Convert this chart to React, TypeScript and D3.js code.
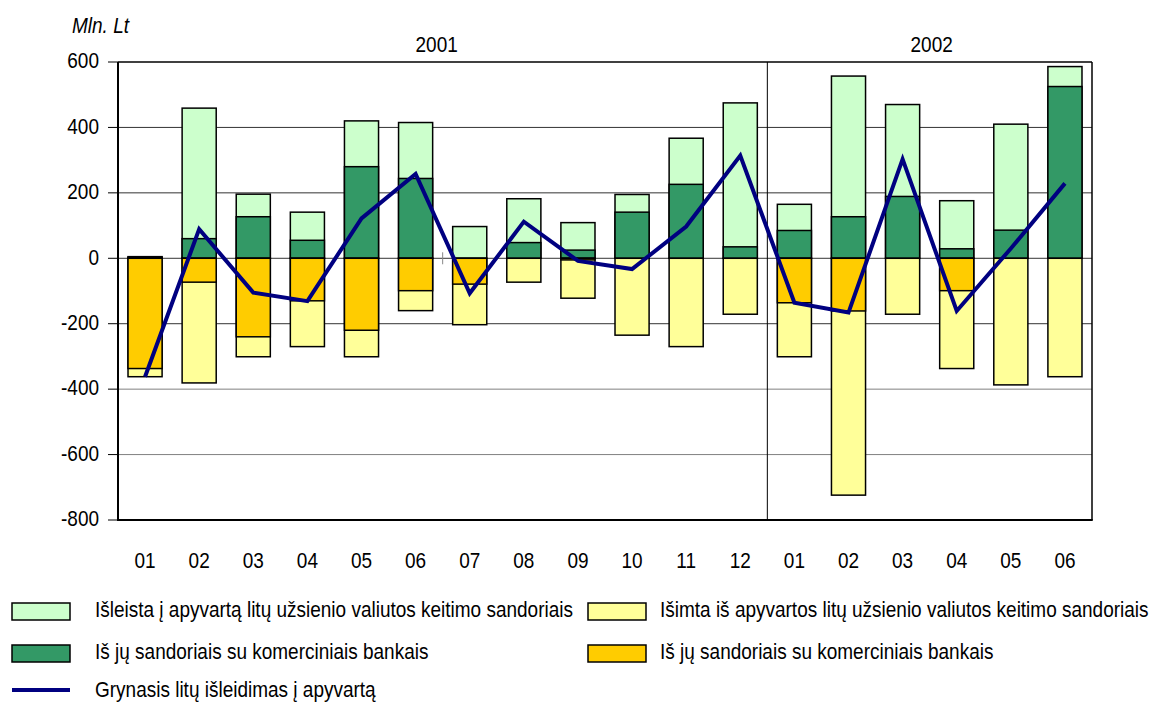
import React from "react";
import * as d3 from "d3";

const months = ["01","02","03","04","05","06","07","08","09","10","11","12","01","02","03","04","05","06"];
const years = [
  { label: "2001", from: 0, to: 11 },
  { label: "2002", from: 12, to: 17 },
];
const issued = [5,459,196,141,420,415,97,182,109,195,367,475,165,557,470,176,410,586];
const issuedBanks = [3,60,127,55,280,244,0,48,25,141,226,35,85,127,189,29,86,525];
const removed = [-362,-381,-301,-270,-301,-160,-203,-73,-122,-235,-270,-171,-301,-724,-171,-337,-387,-362];
const removedBanks = [-337,-73,-240,-130,-220,-99,-79,0,-5,0,0,0,-136,-161,0,-99,0,0];
const net = [-362,89,-105,-131,122,258,-107,112,-8,-33,97,314,-136,-166,303,-161,30,229];
const yTicks = [600,400,200,0,-200,-400,-600,-800];
const gridTicks = [400,200,0,-200,-400,-600];

const legendItems = [
  { label: "Išleista į apyvartą litų užsienio valiutos keitimo sandoriais", color: "#CCFFCC", col: 0, row: 0 },
  { label: "Išimta iš apyvartos litų užsienio valiutos keitimo sandoriais", color: "#FFFF99", col: 1, row: 0 },
  { label: "Iš jų sandoriais su komerciniais bankais", color: "#339966", col: 0, row: 1 },
  { label: "Iš jų sandoriais su komerciniais bankais", color: "#FFCC00", col: 1, row: 1 },
];
const lineLabel = "Grynasis litų išleidimas į apyvartą";

const W = 1159, H = 702;
const L = 118, R = 1092, T = 62, B = 520;
const font = "'Liberation Sans', Arial, Helvetica, sans-serif";

function Txt(props: { x: number; y: number; anchor?: string; italic?: boolean; children: React.ReactNode }) {
  return (
    <text
      transform={`translate(${props.x},${props.y}) scale(1,1.2)`}
      textAnchor={props.anchor || "start"}
      fontSize={19}
      fontStyle={props.italic ? "italic" : "normal"}
      fill="#000"
    >
      {props.children}
    </text>
  );
}

export default function App() {
  const idx = months.map((_, i) => i);
  const x = d3.scaleBand<number>().domain(idx).range([L, R]).paddingInner(0.37).paddingOuter(0.185);
  const y = d3.scaleLinear().domain([-800, 600]).range([B, T]);
  const bw = x.bandwidth();
  const cx = (i: number) => (x(i) as number) + bw / 2;
  const line = d3.line<number>().x((_, i) => cx(i)).y((d) => y(d));
  const gap = (x.step() - bw) / 2;
  const divX = (x(12) as number) - gap;
  const tickX = (x(6) as number) - gap;

  const rect = (i: number, a: number, b: number, fill: string, key: string) => {
    const y0 = y(Math.max(a, b));
    const y1 = y(Math.min(a, b));
    return <rect key={key} x={x(i)} y={y0} width={bw} height={Math.max(0, y1 - y0)} fill={fill} stroke="#000" strokeWidth={1.5} />;
  };

  return (
    <svg width={W} height={H} style={{ position: "absolute", left: 0, top: 0, background: "#fff" }} fontFamily={font}>
      <rect x={0} y={0} width={W} height={H} fill="#fff" />
      {gridTicks.map((t) => (
        <line key={"g" + t} x1={L} x2={R} y1={y(t)} y2={y(t)} stroke={t <= -400 ? "#808080" : "#333"} strokeWidth={1} />
      ))}
      <line x1={divX} x2={divX} y1={T} y2={B} stroke="#000" strokeWidth={1} />
      <line x1={tickX} x2={tickX} y1={y(0) - 6} y2={y(0) + 6} stroke="#888" strokeWidth={1} />
      {idx.map((i) => (
        <g key={"b" + i}>
          {rect(i, 0, issued[i], "#CCFFCC", "li")}
          {issuedBanks[i] !== 0 && rect(i, 0, issuedBanks[i], "#339966", "di")}
          {rect(i, 0, removed[i], "#FFFF99", "lr")}
          {removedBanks[i] !== 0 && rect(i, 0, removedBanks[i], "#FFCC00", "dr")}
        </g>
      ))}
      <path d={line(net) || ""} fill="none" stroke="#000080" strokeWidth={4} strokeLinejoin="miter" />
      <line x1={L} x2={R} y1={T} y2={T} stroke="#000" strokeWidth={1.5} />
      <line x1={R} x2={R} y1={T} y2={B} stroke="#000" strokeWidth={1.5} />
      <line x1={L} x2={L} y1={T} y2={B + 1} stroke="#000" strokeWidth={2} />
      <line x1={L} x2={R + 0.75} y1={B} y2={B} stroke="#000" strokeWidth={2} />
      {yTicks.map((t) => (
        <g key={"t" + t}>
          <line x1={L - 10} x2={L} y1={y(t)} y2={y(t)} stroke="#000" strokeWidth={1} />
          <Txt x={99} y={y(t) + 6.3} anchor="end">{t}</Txt>
        </g>
      ))}
      {months.map((m, i) => (
        <Txt key={"m" + i} x={cx(i)} y={568} anchor="middle">{m}</Txt>
      ))}
      {years.map((yr, k) => (
        <Txt key={yr.label} x={(cx(yr.from) + cx(yr.to)) / 2 + (k === 0 ? -6 : 2)} y={51.5} anchor="middle">{yr.label}</Txt>
      ))}
      <Txt x={72} y={33} italic>Mln. Lt</Txt>
      {legendItems.map((it, k) => {
        const sx = it.col === 0 ? 12 : 588;
        const tx = it.col === 0 ? 95 : 660;
        const top = 603 + it.row * 42;
        return (
          <g key={"lg" + k}>
            <rect x={sx} y={top} width={58} height={17} fill={it.color} stroke="#000" strokeWidth={1.5} />
            <Txt x={tx} y={top + 14}>{it.label}</Txt>
          </g>
        );
      })}
      <line x1={12} x2={70} y1={690} y2={690} stroke="#000080" strokeWidth={4} />
      <Txt x={95} y={697}>{lineLabel}</Txt>
    </svg>
  );
}
